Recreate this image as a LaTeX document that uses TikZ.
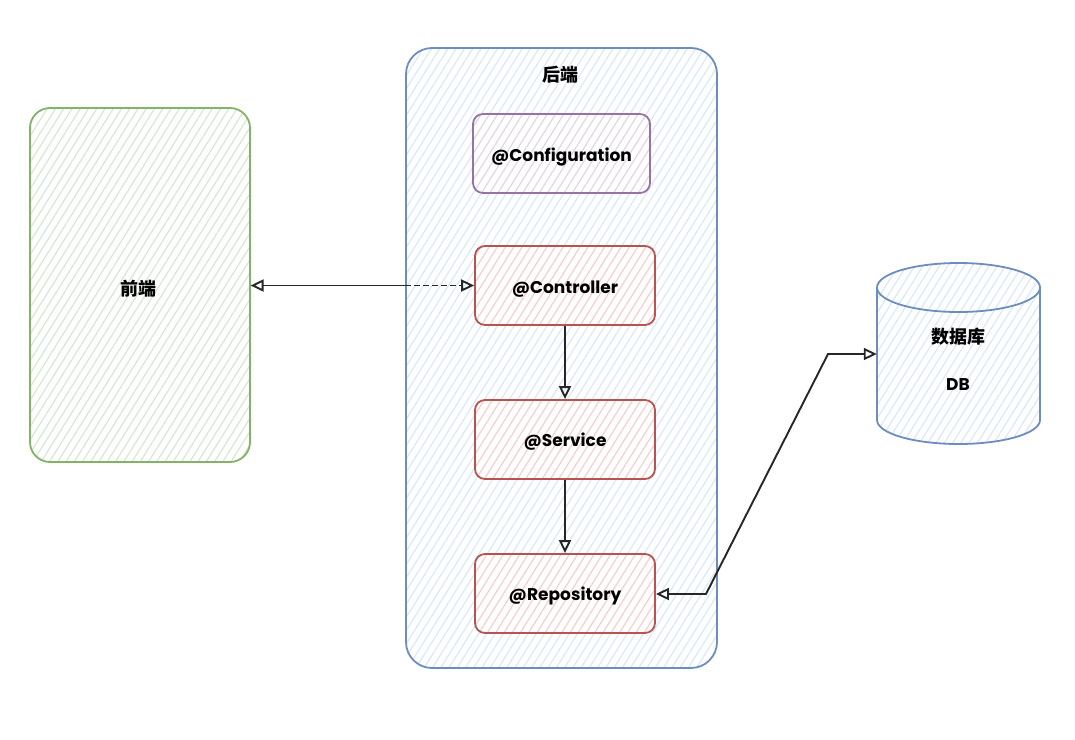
\documentclass[tikz,border=0pt]{standalone}
\usepackage{fontspec}
\newfontfamily\cjk{Noto Sans CJK SC}
\newfontfamily\lat{Poppins}
\usetikzlibrary{arrows.meta,patterns.meta}
\definecolor{gline}{HTML}{82B366}\definecolor{gfill}{HTML}{D5E8D4}
\definecolor{bline}{HTML}{6C8EBF}\definecolor{bfill}{HTML}{DAE8FC}
\definecolor{rline}{HTML}{B85450}\definecolor{rfill}{HTML}{F8CECC}
\definecolor{pline}{HTML}{9673A6}\definecolor{pfill}{HTML}{E1D5E7}
\tikzset{
  hatch/.style={pattern={Lines[angle=58,distance=7pt,line width=1.2pt]},pattern color=#1},
  box/.style={draw=#1line,line width=1.8pt,rounded corners=10pt,
    preaction={fill=white},hatch=#1fill,inner sep=0pt},
  comp/.style={box=#1,minimum width=180pt,minimum height=79pt},
  lbl/.style={font=\lat\bfseries\fontsize{17}{20}\selectfont},
  cjklabel/.style={font=\cjk\bfseries\fontsize{18}{22}\selectfont},
  conn/.style={draw=black!85,line width=1.9pt},
  tip/.tip={Triangle[open,length=13pt,width=12pt,line width=1.9pt]},
}
\begin{document}
\begin{tikzpicture}[x=1pt,y=-1pt]
\useasboundingbox (0,0) rectangle (1075,739);
% frontend
\node[box=g,rounded corners=20pt,minimum width=220pt,minimum height=354pt] (front) at (140,285) {};
\node[cjklabel] (frontlbl) at (138,289) {前端};
% backend
\node[box=b,rounded corners=26pt,minimum width=311pt,minimum height=620pt] (back) at (561.5,358) {};
\node[cjklabel] (backlbl) at (560,75) {后端};
% components
\node[comp=p,minimum width=177pt] (conf) at (561.5,153.5) {};
\node[lbl] (conflbl) at (561.5,157) {@Configuration};
\node[comp=r] (ctrl) at (565,285.5) {};
\node[lbl] (ctrllbl) at (565,289) {@Controller};
\node[comp=r] (serv) at (565,439.5) {};
\node[lbl] (servlbl) at (565,442) {@Service};
\node[comp=r] (repo) at (565,593.5) {};
\node[lbl] (repolbl) at (565,596) {@Repository};
% database cylinder
\node[minimum width=163pt,minimum height=183pt,inner sep=0pt] (db) at (958.5,353) {};
\fill[white] (877,287.5) -- (877,420) arc[start angle=180,end angle=360,x radius=81.5pt,y radius=24pt] -- (1040,287.5) arc[start angle=0,end angle=180,x radius=81.5pt,y radius=24.5pt] -- cycle;
\fill[hatch=bfill] (877,287.5) -- (877,420) arc[start angle=180,end angle=360,x radius=81.5pt,y radius=24pt] -- (1040,287.5) arc[start angle=0,end angle=180,x radius=81.5pt,y radius=24.5pt] -- cycle;
\draw[bline,line width=1.8pt] (877,287.5) -- (877,420) arc[start angle=180,end angle=360,x radius=81.5pt,y radius=24pt] -- (1040,287.5);
\draw[bline,line width=1.8pt] (958.5,287.5) ellipse[x radius=81.5pt,y radius=24.5pt];
\node[cjklabel] (dbtitle) at (958,337) {数据库};
\node[lbl] (dbname) at (958,385) {DB};
% connectors
\coordinate (mid) at (back.west |- ctrl.west);
\draw[conn,{tip}-] (front.east |- ctrl.west) -- (mid);
\draw[conn,line width=1.5pt,dash pattern=on 6pt off 3pt,-{tip}] (mid) -- (ctrl.west);
\draw[conn,-{tip}] (ctrl.south) -- (serv.north);
\draw[conn,-{tip}] (serv.south) -- (repo.north);
\coordinate (k1) at (706,594);
\coordinate (k2) at (828,354);
\draw[conn,{tip}-{tip}] (repo.east |- k1) -- (k1) -- (k2) to[out=0,in=180] (db.west |- k2);
\end{tikzpicture}
\end{document}
